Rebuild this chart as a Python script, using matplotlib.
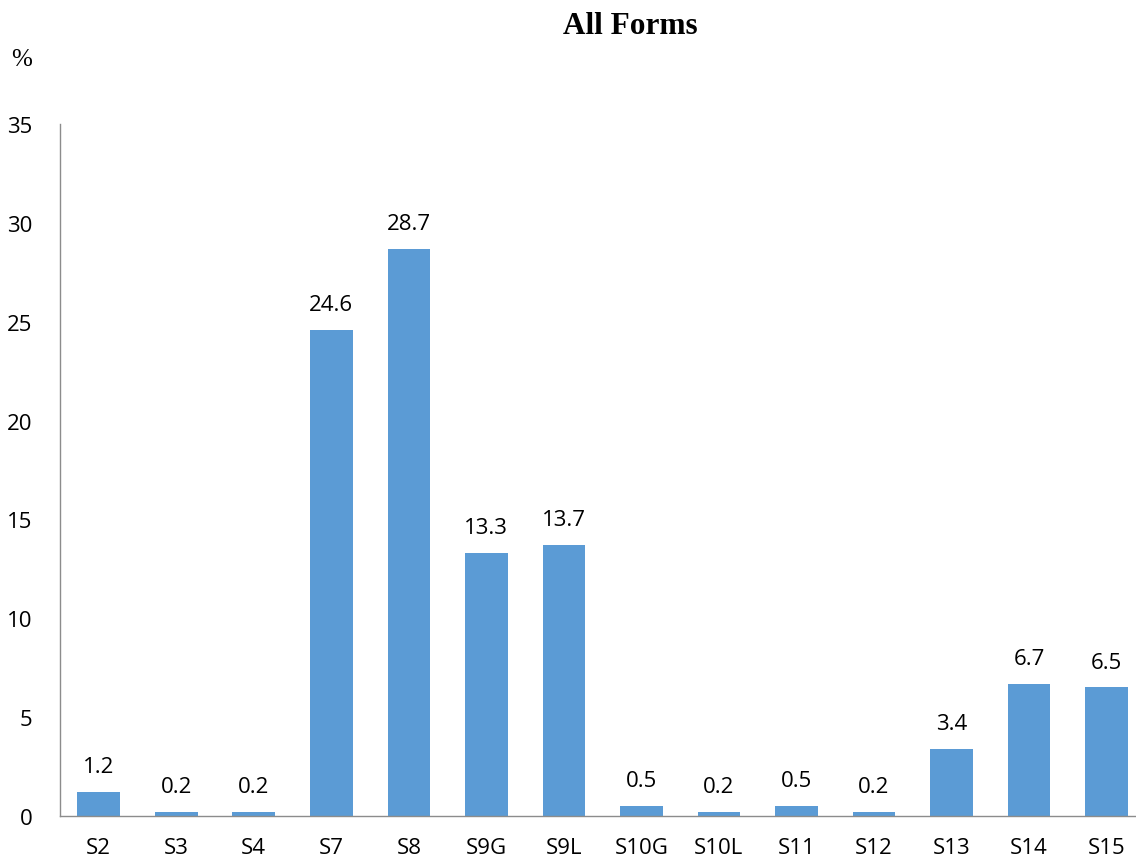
import numpy as np
import matplotlib.pyplot as plt

categories = ['S2', 'S3', 'S4', 'S7', 'S8', 'S9G', 'S9L', 'S10G', 'S10L',
              'S11', 'S12', 'S13', 'S14', 'S15']
values = [1.2, 0.2, 0.2, 24.6, 28.7, 13.3, 13.7, 0.5, 0.2, 0.5, 0.2, 3.4, 6.7, 6.5]
yticks = [0, 5, 10, 15, 20, 25, 30, 35]

plt.rcParams['font.family'] = ['Open Sans', 'DejaVu Sans']

W, H = 1136, 862
fig = plt.figure(figsize=(W/100., H/100.), dpi=100)
ax = fig.add_axes([60./W, 1-817./H, (W-60.)/W, (817.-125.)/H])

x = np.arange(len(categories))
ax.bar(x, values, width=0.55, color='#5B9BD5', edgecolor='none', zorder=2)
for xi, v in zip(x, values):
    ax.text(xi, v + 0.75, '%.1f' % v, ha='center', va='bottom', fontsize=16, color='black')

ax.set_xlim(-0.5, 13.38)
ax.set_ylim(0, 35)
ax.set_xticks(x)
ax.set_xticklabels(categories, fontsize=16)
ax.set_yticks(yticks)
ax.set_yticklabels([str(t) for t in yticks], fontsize=16)
ax.tick_params(axis='both', length=0)
ax.tick_params(axis='x', pad=15)
ax.tick_params(axis='y', pad=20)
for s in ['top', 'right']:
    ax.spines[s].set_visible(False)
for s in ['left', 'bottom']:
    ax.spines[s].set_color('#8c8c8c')
    ax.spines[s].set_linewidth(1.0)

fig.text(630./W, 1-26./H, 'All Forms', ha='center', va='center', fontsize=22.5,
         fontweight='bold', family='Liberation Serif')
fig.text(22./W, 1-60./H, '%', ha='center', va='center', fontsize=18, family='Liberation Serif')

fig.savefig('out.png', dpi=100)
